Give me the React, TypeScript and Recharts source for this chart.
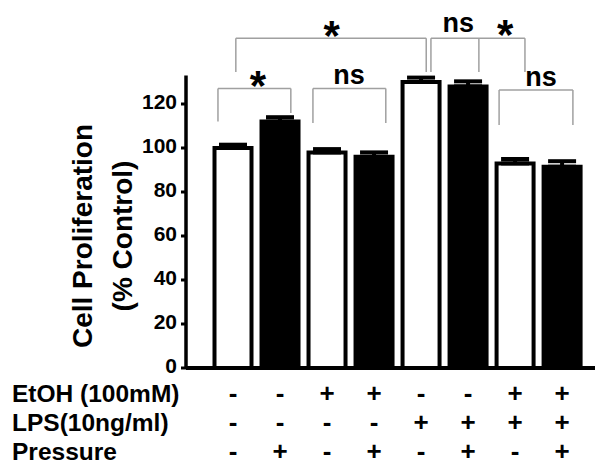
import { Bar, BarChart, Cell, ErrorBar, ReferenceDot, ReferenceLine, XAxis, YAxis } from "recharts"

const groups = [1, 2, 3, 4, 5, 6, 7, 8]
const ethanol = ["-", "-", "+", "+", "-", "-", "+", "+"]
const lps = ["-", "-", "-", "-", "+", "+", "+", "+"]
const pressure = ["-", "+", "-", "+", "-", "+", "-", "+"]
const proliferation = [100, 112, 98, 96, 130, 128, 93, 91.5]
const sem = [1.5, 2, 1.5, 2, 2, 2.3, 2, 2.5]

const rowLabels = ["EtOH (100mM)", "LPS(10ng/ml)", "Pressure"]
const rows = [ethanol, lps, pressure]
const yTicks = [0, 20, 40, 60, 80, 100, 120]
const yAxisTop = 133

// significance brackets, in data units (x = group position, y = % control)
const brackets = [
  { from: 0.68, to: 2.23, top: 127.1, legFrom: 112, legTo: 115.9 },
  { from: 2.7, to: 4.25, top: 127.1, legFrom: 111.4, legTo: 111.4 },
  { from: 6.66, to: 8.23, top: 126.4, legFrom: 110.5, legTo: 110.5 },
  { from: 1.06, to: 5.11, top: 149.9, legFrom: 134.5, legTo: 134.5 },
  { from: 5.21, to: 7.21, top: 149.9, legFrom: 134.5, legTo: 134.5 },
]
const extraLegs = [{ x: 6.23, bottom: 134.5, top: 149.9 }]

const marks = [
  { x: 1.53, y: 128.5, text: "*" },
  { x: 3.47, y: 133.5, text: "ns" },
  { x: 7.55, y: 132.5, text: "ns" },
  { x: 3.1, y: 151.3, text: "*" },
  { x: 5.79, y: 157, text: "ns" },
  { x: 6.79, y: 151.7, text: "*" },
]

const data = groups.map((g, i) => ({
  group: g,
  value: proliferation[i],
  err: [0, sem[i]],
}))

const FONT = '"Liberation Sans", Arial, Helvetica, sans-serif'
const BRACKET = "#a0a0a0"
const rowOffsets = [34, 63, 92]

function ConditionTick(props: any) {
  const { x, y, payload } = props
  const i = payload.value - 1
  return (
    <g fontFamily={FONT} fontWeight="bold" fill="#000">
      {i === 0 &&
        rowLabels.map((label, k) => (
          <text key={"l" + k} x={12} y={y + rowOffsets[k]} textAnchor="start" fontSize={24.5}>
            {label}
          </text>
        ))}
      {rows.map((row, k) => (
        <text key={k} x={x} y={y + rowOffsets[k]} textAnchor="middle" fontSize={26}>
          {row[i]}
        </text>
      ))}
    </g>
  )
}

function YTitle(props: any) {
  const vb = props.viewBox || { x: 0, y: 16 }
  const cy = vb.y + 220
  const x1 = vb.x + 82
  const x2 = vb.x + 122
  return (
    <g fontFamily={FONT} fontWeight="bold" fontSize={28} fill="#000">
      <text x={x1} y={cy} transform={`rotate(-90 ${x1} ${cy})`} textAnchor="middle" dominantBaseline="central">
        Cell Proliferation
      </text>
      <text x={x2} y={cy} transform={`rotate(-90 ${x2} ${cy})`} textAnchor="middle" dominantBaseline="central">
        (% Control)
      </text>
    </g>
  )
}

export default function App() {
  return (
    <div style={{ position: "absolute", left: 0, top: 0, background: "#fff" }}>
      <BarChart width={600} height={475} data={data} margin={{ top: 16, right: 5, left: 0, bottom: 0 }}>
        <XAxis
          dataKey="group"
          type="number"
          domain={[0, 8.7]}
          allowDataOverflow
          ticks={groups}
          interval={0}
          height={107}
          tickLine={false}
          tickSize={0}
          tickMargin={0}
          axisLine={{ stroke: "#000", strokeWidth: 4 }}
          tick={<ConditionTick />}
        />
        <YAxis
          domain={[0, 160]}
          allowDataOverflow
          ticks={yTicks}
          width={186}
          axisLine={false}
          tickSize={5}
          tickMargin={4}
          tickLine={{ stroke: "#000", strokeWidth: 3 }}
          tick={{ fill: "#000", fontSize: 21, fontWeight: "bold", fontFamily: FONT, dy: -2 }}
          label={<YTitle />}
        />
        <ReferenceLine
          segment={[
            { x: 0, y: 0 },
            { x: 0, y: yAxisTop },
          ]}
          stroke="#000"
          strokeWidth={3.5}
        />
        <Bar dataKey="value" barSize={37} stroke="#000" strokeWidth={4} isAnimationActive={false}>
          {data.map((d, i) => (
            <Cell key={d.group} fill={pressure[i] === "+" ? "#000" : "#fff"} stroke="#000" strokeWidth={4} />
          ))}
          <ErrorBar dataKey="err" direction="y" width={14} stroke="#000" strokeWidth={4} isAnimationActive={false} />
        </Bar>
        {brackets.flatMap((b, k) => [
          <ReferenceLine
            key={"h" + k}
            segment={[
              { x: b.from, y: b.top },
              { x: b.to, y: b.top },
            ]}
            stroke={BRACKET}
            strokeWidth={1.5}
          />,
          <ReferenceLine
            key={"a" + k}
            segment={[
              { x: b.from, y: b.legFrom },
              { x: b.from, y: b.top },
            ]}
            stroke={BRACKET}
            strokeWidth={1.5}
          />,
          <ReferenceLine
            key={"b" + k}
            segment={[
              { x: b.to, y: b.legTo },
              { x: b.to, y: b.top },
            ]}
            stroke={BRACKET}
            strokeWidth={1.5}
          />,
        ])}
        {extraLegs.map((l, k) => (
          <ReferenceLine
            key={"e" + k}
            segment={[
              { x: l.x, y: l.bottom },
              { x: l.x, y: l.top },
            ]}
            stroke={BRACKET}
            strokeWidth={1.5}
          />
        ))}
        {marks.map((m, k) => (
          <ReferenceDot
            key={"m" + k}
            x={m.x}
            y={m.y}
            r={0}
            fill="none"
            stroke="none"
            label={{
              value: m.text,
              position: "center",
              fill: "#000",
              fontSize: m.text === "*" ? 42 : 27,
              fontWeight: "bold",
              fontFamily: FONT,
            }}
          />
        ))}
      </BarChart>
    </div>
  )
}
